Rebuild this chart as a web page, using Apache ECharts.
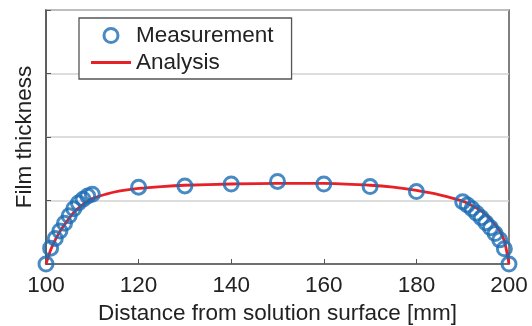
<!DOCTYPE html>
<html>
<head>
<meta charset="utf-8">
<script src="https://cdn.jsdelivr.net/npm/echarts@6/dist/echarts.min.js"></script>
<style>
  html, body { margin: 0; padding: 0; background: #fff; }
  #chart { width: 532px; height: 326px; }
</style>
</head>
<body>
<div id="chart"></div>
<script>
  // measured points (mm, film thickness in grid units)
  const measX = [100, 101, 102, 103, 104, 105, 106, 107, 108, 109, 110,
    120, 130, 140, 150, 160, 170, 180,
    190, 191, 192, 193, 194, 195, 196, 197, 198, 199, 200]
  const measY = [0, 0.25, 0.40, 0.52, 0.64, 0.76, 0.87, 0.96, 1.02, 1.07, 1.10,
    1.21, 1.23, 1.26, 1.30, 1.26, 1.22, 1.14,
    0.98, 0.93, 0.87, 0.80, 0.73, 0.65, 0.57, 0.48, 0.38, 0.24, 0]

  // analysis curve
  const anaX = [100, 101, 102, 103, 104, 105, 106, 107, 108, 110, 113, 116, 120, 125, 130,
    140, 150, 160, 170, 175, 180, 185, 190, 193, 195, 197, 198, 199, 200]
  const anaY = [0, 0.22, 0.38, 0.51, 0.62, 0.72, 0.81, 0.88, 0.94, 1.03, 1.10, 1.15, 1.19, 1.22, 1.24,
    1.26, 1.27, 1.27, 1.24, 1.21, 1.16, 1.09, 0.99, 0.88, 0.78, 0.62, 0.52, 0.36, 0]

  const blue = '#1b6db4'
  const red = '#e62128'
  const font = 'Liberation Sans, Arial, sans-serif'
  const fs = 22.5

  const chart = echarts.init(document.getElementById('chart'))
  chart.setOption({
    animation: false,
    textStyle: { fontFamily: font },
    grid: {
      left: 46, right: 23, top: 10, bottom: 62,
      outerBoundsMode: 'none',
      containLabel: false,
      show: true, borderColor: '#555', borderWidth: 1.5
    },
    legend: {
      left: 79,
      top: 18,
      orient: 'vertical',
      itemWidth: 40,
      itemHeight: 14,
      itemGap: 4,
      padding: [6, 18, 5, 12],
      borderColor: '#555',
      borderWidth: 1.3,
      borderRadius: 0,
      backgroundColor: '#fff',
      textStyle: { fontSize: fs, color: '#222', fontFamily: font },
      data: [
        { name: 'Measurement', icon: 'circle', itemStyle: { color: 'transparent', borderColor: blue, borderWidth: 3 } },
        { name: 'Analysis', icon: 'path://M0,0L40,0L40,2.8L0,2.8Z', itemStyle: { color: red } }
      ]
    },
    xAxis: {
      type: 'value',
      min: 100,
      max: 200,
      interval: 20,
      name: 'Distance from solution surface [mm]',
      nameLocation: 'middle',
      nameGap: 37,
      nameTextStyle: { fontSize: fs, color: '#222' },
      axisLine: { lineStyle: { color: '#555', width: 1.5 } },
      axisTick: { inside: true, length: 5, lineStyle: { color: '#555' } },
      axisLabel: { fontSize: fs, color: '#222', margin: 10 },
      splitLine: { show: false }
    },
    yAxis: {
      type: 'value',
      min: 0,
      max: 4,
      interval: 1,
      name: 'Film thickness',
      nameLocation: 'middle',
      nameGap: 10,
      nameTextStyle: { fontSize: fs, color: '#222' },
      axisLine: { show: true, lineStyle: { color: '#555', width: 1.5 } },
      axisTick: { show: true, inside: true, length: 5, lineStyle: { color: '#555' } },
      axisLabel: { show: false },
      splitLine: { lineStyle: { color: '#d2d2d2', width: 1.5 } }
    },
    series: [
      {
        name: 'Analysis',
        type: 'line',
        smooth: 0.3,
        symbol: 'none',
        z: 2,
        lineStyle: { color: red, width: 2.8 },
        itemStyle: { color: red },
        data: anaX.map((x, i) => [x, anaY[i]])
      },
      {
        name: 'Measurement',
        type: 'scatter',
        symbol: 'circle',
        symbolSize: 14,
        z: 3,
        itemStyle: { color: 'transparent', borderColor: blue, borderWidth: 3 },
        data: measX.map((x, i) => [x, measY[i]])
      }
    ]
  })
</script>
</body>
</html>
